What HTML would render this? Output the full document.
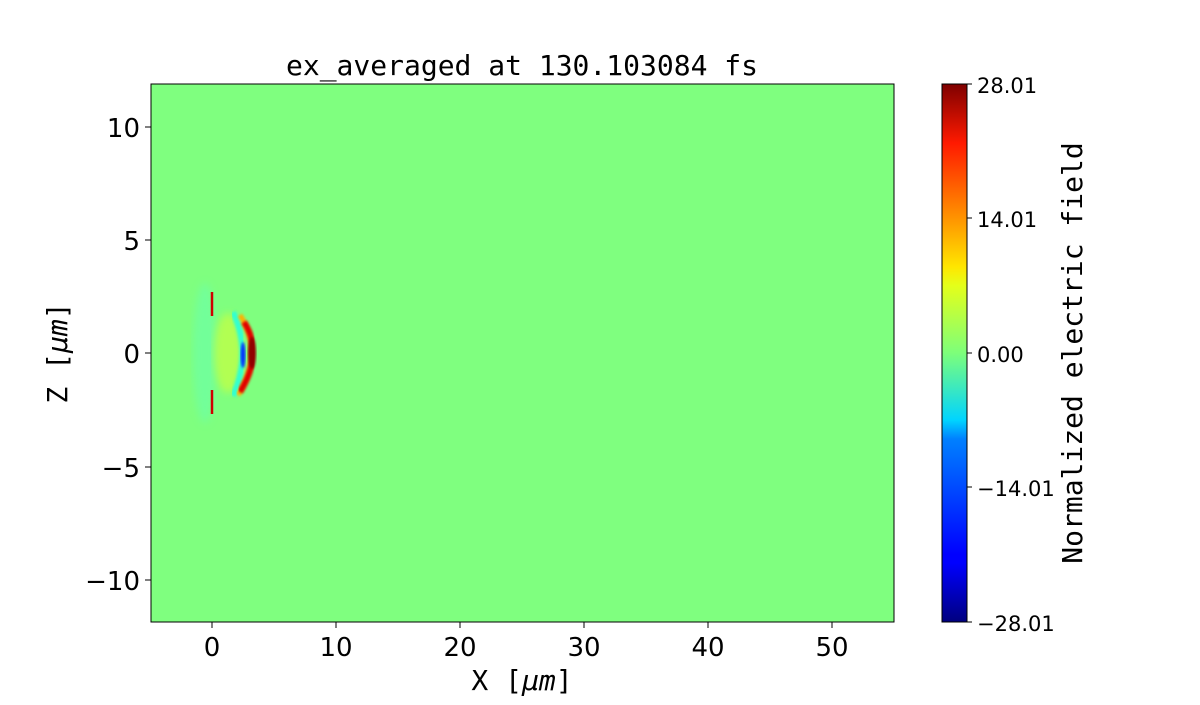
<!DOCTYPE html>
<html><head><meta charset="utf-8"><style>
body{margin:0;background:#fff;width:1200px;height:700px;overflow:hidden}
svg text{font-family:"DejaVu Sans",sans-serif;fill:#000}
.m{font-family:"DejaVu Sans Mono",monospace}
</style></head><body>
<svg width="1200" height="700" xmlns="http://www.w3.org/2000/svg">
<defs>
<linearGradient id="jet" x1="0" y1="1" x2="0" y2="0">
<stop offset="0" stop-color="#00007f"/><stop offset="0.11" stop-color="#0000ff"/>
<stop offset="0.125" stop-color="#0000ff"/><stop offset="0.34" stop-color="#0080ff"/>
<stop offset="0.36" stop-color="#00b0ff"/><stop offset="0.375" stop-color="#00d4ff"/>
<stop offset="0.5" stop-color="#7dff7a"/><stop offset="0.625" stop-color="#e4ff1a"/>
<stop offset="0.66" stop-color="#ffe600"/><stop offset="0.75" stop-color="#ff9400"/>
<stop offset="0.89" stop-color="#ff1a00"/><stop offset="1" stop-color="#7f0000"/>
</linearGradient>
<filter id="b"><feGaussianBlur stdDeviation="1.2"/></filter>
<filter id="b2"><feGaussianBlur stdDeviation="4"/></filter>
<clipPath id="c"><rect x="151" y="84" width="743" height="538"/></clipPath>
</defs>
<rect x="151" y="84" width="743" height="538" fill="#7fff7f"/>
<g clip-path="url(#c)">
<ellipse cx="205" cy="353" rx="12" ry="70" fill="#6fffa0" filter="url(#b2)" opacity="0.8"/>
<ellipse cx="228" cy="353" rx="14" ry="40" fill="#c8ff40" filter="url(#b2)" opacity="0.7"/>
<path d="M233,312 Q252,353 233,396" stroke="#30ffd0" stroke-width="6" fill="none" filter="url(#b)"/>
<path d="M240,315 Q264,353 238,395" stroke="#ffb000" stroke-width="5" fill="none" filter="url(#b)"/>
<path d="M244,322 Q264,353 240,392" stroke="#e00000" stroke-width="6" fill="none" filter="url(#b)"/>
<ellipse cx="252" cy="353" rx="4" ry="16" fill="#900000" filter="url(#b)"/>
<ellipse cx="243" cy="355" rx="2.5" ry="13" fill="#0030ff" filter="url(#b)"/>
<line x1="212" y1="268" x2="212" y2="438" stroke="#e8ff30" stroke-width="2" filter="url(#b)"/>
<line x1="212" y1="292" x2="212" y2="316" stroke="#d00000" stroke-width="2.5"/>
<line x1="212" y1="390" x2="212" y2="414" stroke="#d00000" stroke-width="2.5"/>
</g>
<rect x="151" y="84" width="743" height="538" fill="none" stroke="#000" stroke-width="1"/>
<g stroke="#000">
<line x1="212" y1="622" x2="212" y2="628"/><line x1="336" y1="622" x2="336" y2="628"/>
<line x1="460" y1="622" x2="460" y2="628"/><line x1="584" y1="622" x2="584" y2="628"/>
<line x1="708" y1="622" x2="708" y2="628"/><line x1="832" y1="622" x2="832" y2="628"/>
<line x1="145" y1="127" x2="151" y2="127"/><line x1="145" y1="240" x2="151" y2="240"/>
<line x1="145" y1="353" x2="151" y2="353"/><line x1="145" y1="467" x2="151" y2="467"/>
<line x1="145" y1="580" x2="151" y2="580"/>
</g>
<g font-size="26" text-anchor="middle">
<text x="212" y="656">0</text><text x="336" y="656">10</text><text x="460" y="656">20</text>
<text x="584" y="656">30</text><text x="708" y="656">40</text><text x="832" y="656">50</text>
</g>
<g font-size="26" text-anchor="end">
<text x="140" y="137">10</text><text x="140" y="250">5</text><text x="140" y="363">0</text>
<text x="140" y="477">−5</text><text x="140" y="590">−10</text>
</g>
<text class="m" x="522" y="690" font-size="28" text-anchor="middle">X [<tspan font-style="italic">μm</tspan>]</text>
<text class="m" transform="translate(67,353) rotate(-90)" font-size="28" text-anchor="middle">Z [<tspan font-style="italic">μm</tspan>]</text>
<text class="m" x="522" y="75" font-size="28" text-anchor="middle">ex_averaged at 130.103084 fs</text>
<rect x="942" y="84" width="25" height="538" fill="url(#jet)" stroke="#000"/>
<g stroke="#000"><line x1="967" y1="84" x2="972" y2="84"/><line x1="967" y1="218" x2="972" y2="218"/>
<line x1="967" y1="353" x2="972" y2="353"/><line x1="967" y1="487" x2="972" y2="487"/><line x1="967" y1="622" x2="972" y2="622"/></g>
<g font-size="21">
<text x="977" y="93">28.01</text><text x="977" y="227">14.01</text><text x="977" y="362">0.00</text>
<text x="977" y="496">−14.01</text><text x="977" y="631">−28.01</text>
</g>
<text class="m" transform="translate(1082,353) rotate(-90)" font-size="28" text-anchor="middle">Normalized electric field</text>
</svg>
</body></html>
